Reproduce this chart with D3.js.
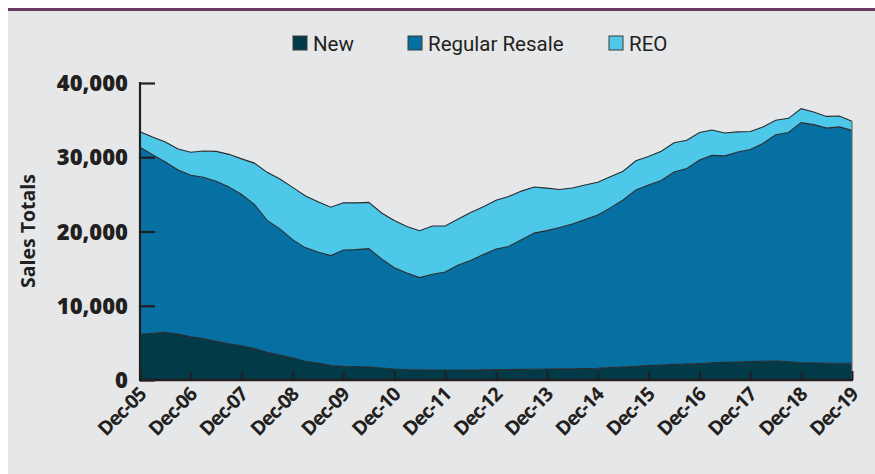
<!DOCTYPE html>
<html>
<head>
<meta charset="utf-8">
<script src="https://cdn.jsdelivr.net/npm/d3@7"></script>
<style>
  html, body { margin: 0; padding: 0; background: #fff; }
  svg { display: block; }
</style>
</head>
<body>
<div id="chart"></div>
<script>
// quarterly sales totals, Dec-05 .. Dec-19
var seriesNames = ["New", "Regular Resale", "REO"];
var newSales = [6160, 6290, 6420, 6180, 5810, 5590, 5230, 4890, 4620, 4230, 3740, 3350, 2990, 2530, 2290,
  1940, 1860, 1820, 1750, 1620, 1480, 1410, 1390, 1350, 1350, 1350, 1350, 1370, 1400, 1410,
  1430, 1450, 1480, 1500, 1520, 1550, 1590, 1670, 1760, 1860, 1940, 2020, 2100, 2160, 2220,
  2300, 2380, 2420, 2470, 2520, 2550, 2450, 2360, 2320, 2260, 2250, 2250];
var resaleSales = [25180, 24050, 22950, 22110, 21760, 21720, 21550, 21120, 20360, 19420, 17750, 17000, 15920, 15300, 14940,
  14820, 15650, 15740, 15950, 14690, 13630, 13000, 12400, 12890, 13200, 14110, 14730, 15520, 16240, 16570,
  17450, 18330, 18640, 19030, 19480, 20070, 20630, 21510, 22480, 23740, 24320, 24840, 25910, 26320, 27420,
  27950, 27810, 28280, 28580, 29330, 30480, 30880, 32300, 32070, 31660, 31840, 31370];
var reoSales = [2100, 2380, 2680, 2820, 3110, 3540, 4010, 4380, 4800, 5560, 6480, 6720, 7030, 6980, 6790,
  6510, 6360, 6290, 6220, 6180, 6360, 6250, 6320, 6510, 6200, 6180, 6490, 6450, 6570, 6730,
  6560, 6210, 5720, 5130, 4850, 4650, 4420, 4200, 3880, 3920, 3840, 3950, 3950, 3800, 3690,
  3420, 3070, 2720, 2410, 2210, 1950, 1910, 1890, 1700, 1580, 1470, 1240];
var yTicks = [0, 10000, 20000, 30000, 40000];
var xTickLabels = ["Dec-05", "Dec-06", "Dec-07", "Dec-08", "Dec-09", "Dec-10", "Dec-11", "Dec-12",
  "Dec-13", "Dec-14", "Dec-15", "Dec-16", "Dec-17", "Dec-18", "Dec-19"];

var colors = ["#023a47", "#0570a1", "#4ec8e9"];

var dates = d3.timeMonth.range(new Date(2005, 11, 1), new Date(2020, 0, 1), 3);
var table = dates.map(function(d, i){
  return {date: d, "New": newSales[i], "Regular Resale": resaleSales[i], "REO": reoSales[i]};
});
var tickDates = xTickLabels.map(function(s, i){ return new Date(2005 + i, 11, 1); });

var width = 875, height = 474;
var svg = d3.select('#chart').append('svg').attr('width', width).attr('height', height);

// panel
svg.append('rect').attr('x', 8).attr('y', 9).attr('width', width - 8).attr('height', height - 9).attr('fill', '#e6e7e9');
svg.append('rect').attr('x', 8).attr('y', 8).attr('width', width - 8).attr('height', 3).attr('fill', '#6a3b61');

var x = d3.scaleTime().domain([dates[0], dates[dates.length - 1]]).range([140, 852]);
var y = d3.scaleLinear().domain([0, 40000]).range([380, 83]);

var stack = d3.stack().keys(seriesNames);
var layers = stack(table);

var area = d3.area()
  .x(function(d){ return x(d.data.date); })
  .y0(function(d){ return y(d[0]); })
  .y1(function(d){ return y(d[1]); });
var topLine = d3.line()
  .x(function(d){ return x(d.data.date); })
  .y(function(d){ return y(d[1]); });

svg.selectAll('path.layer').data(layers).enter().append('path')
  .attr('class', 'layer')
  .attr('d', area)
  .attr('fill', function(d, i){ return colors[i]; });
svg.selectAll('path.edge').data(layers).enter().append('path')
  .attr('class', 'edge')
  .attr('d', topLine)
  .attr('fill', 'none')
  .attr('stroke', '#2b2b2e')
  .attr('stroke-width', 1.1);
// right edge
svg.append('line').attr('x1', 852).attr('x2', 852)
  .attr('y1', y(0)).attr('y2', y(layers[2][layers[2].length - 1][1]))
  .attr('stroke', '#6d6e71').attr('stroke-width', 1.2);

// y axis
var yAxis = svg.append('g').attr('transform', 'translate(140,0)')
  .call(d3.axisRight(y).tickValues(yTicks).tickSize(15).tickFormat(''));
yAxis.select('.domain').remove();
yAxis.selectAll('line').attr('stroke', '#231f20').attr('stroke-width', 2.2);
svg.append('line').attr('x1', 140).attr('x2', 140).attr('y1', 82).attr('y2', 381)
  .attr('stroke', '#231f20').attr('stroke-width', 2.2);
svg.selectAll('text.ylab').data(yTicks).enter().append('text')
  .attr('class', 'ylab')
  .attr('x', 128).attr('y', function(d){ return y(d) + 8; })
  .attr('text-anchor', 'end')
  .style('font-family', 'Open Sans').style('font-weight', 800).style('font-size', '22px')
  .attr('fill', '#231f20')
  .text(function(d){ return d3.format(',')(d); });

svg.append('text')
  .attr('transform', 'translate(35,231) rotate(-90)')
  .attr('text-anchor', 'middle')
  .style('font-family', 'Open Sans').style('font-weight', 700).style('font-size', '19.5px')
  .attr('fill', '#231f20')
  .text('Sales Totals');

// x axis
var xAxis = svg.append('g').attr('transform', 'translate(0,380)')
  .call(d3.axisTop(x).tickValues(tickDates).tickSize(9).tickFormat(''));
xAxis.select('.domain').remove();
xAxis.selectAll('line').attr('stroke', '#231f20').attr('stroke-width', 2);
svg.append('line').attr('x1', 139).attr('x2', 853).attr('y1', 380).attr('y2', 380)
  .attr('stroke', '#231f20').attr('stroke-width', 2.5);
svg.selectAll('text.xlab').data(tickDates).enter().append('text')
  .attr('class', 'xlab')
  .attr('transform', function(d){ return 'translate(' + (x(d) + 7) + ',396) rotate(-45)'; })
  .attr('text-anchor', 'end')
  .style('font-family', 'Open Sans').style('font-weight', 700).style('font-size', '19.5px')
  .style('letter-spacing', '-1.1px')
  .attr('fill', '#231f20')
  .text(function(d, i){ return xTickLabels[i]; });

// legend
var legendX = [293, 408, 609];
var legend = svg.selectAll('g.legend').data(seriesNames).enter().append('g')
  .attr('class', 'legend')
  .attr('transform', function(d, i){ return 'translate(' + legendX[i] + ',36)'; });
legend.append('rect').attr('width', 14).attr('height', 14)
  .attr('fill', function(d, i){ return colors[i]; })
  .attr('stroke', '#3a3a3c').attr('stroke-width', 1);
legend.append('text').attr('x', 20).attr('y', 15)
  .style('font-family', 'Roboto').style('font-size', '20.5px')
  .attr('fill', '#231f20')
  .text(function(d){ return d; });
</script>
</body>
</html>
